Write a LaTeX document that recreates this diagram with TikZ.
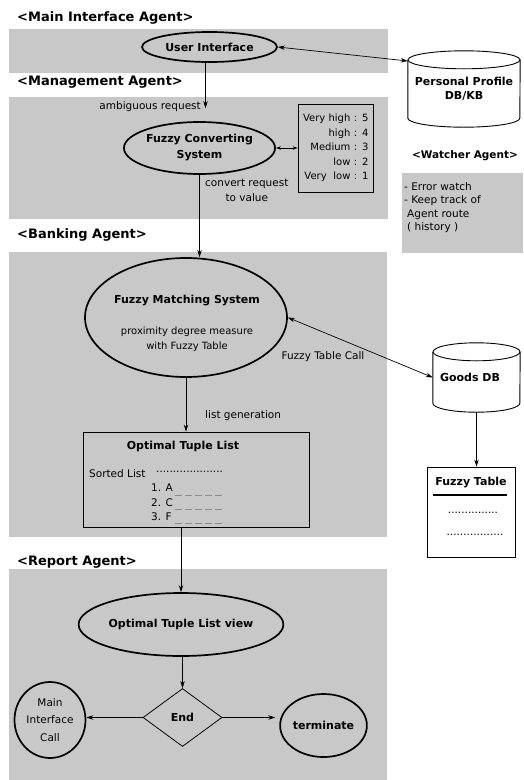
\documentclass[tikz,border=0pt]{standalone}
\usepackage{fontspec}
\setmainfont{DejaVu Sans}
\usetikzlibrary{shapes.geometric,arrows.meta,calc}
\definecolor{bandgray}{RGB}{200,200,200}
\definecolor{dashgray}{RGB}{140,140,140}
\newcommand\myfs[2]{\fontsize{#1}{#2}\selectfont}
\newcommand\mycyl[3]{%
  \draw[line width=0.9pt] ($(#1.north)+(0,#3)$) ellipse [x radius=#2pt, y radius=#3pt];
  \draw[line width=0.9pt] ($(#1.north west)+(0,#3)$) -- ($(#1.south west)-(0,#3)$)
    arc[start angle=180, end angle=360, x radius=#2pt, y radius=#3pt] -- ($(#1.north east)+(0,#3)$);}
\begin{document}
\begin{tikzpicture}[x=1pt,y=-1pt,
  band/.style={fill=bandgray, draw=none},
  agtitle/.style={font=\myfs{13}{15}\bfseries, anchor=west, inner sep=0},
  ell/.style={ellipse, draw, line width=1.7pt, inner sep=0, align=center, font=\myfs{11}{16}\bfseries},
  bold/.style={font=\myfs{11}{14}\bfseries, inner sep=0, align=center},
  lbl/.style={font=\myfs{10.5}{15}, inner sep=0, align=center},
  arr/.style={-{Stealth[length=7pt,width=4.5pt]}, line width=0.7pt},
  darr/.style={{Stealth[length=7pt,width=4.5pt]}-{Stealth[length=7pt,width=4.5pt]}, line width=0.7pt},
  sdarr/.style={{Stealth[length=5pt,width=3.5pt]}-{Stealth[length=5pt,width=3.5pt]}, line width=0.7pt},
  boxframe/.style={draw, line width=0.9pt, inner sep=0}]
\useasboundingbox (0,0) rectangle (523,780);
\fill[white] (0,0) rectangle (523,780);
% bands
\fill[band] (9,29) rectangle (388,73);
\fill[band] (9,97) rectangle (388,219);
\fill[band] (9,252) rectangle (387,537);
\fill[band] (9,569) rectangle (387,780);
\fill[band] (402,173) rectangle (523,253);
% titles
\node[agtitle] (t1) at (17,18) {<Main Interface Agent>};
\node[agtitle] (t2) at (17,82) {<Management Agent>};
\node[agtitle] (t3) at (17,235) {<Banking Agent>};
\node[agtitle] (t4) at (17,562) {<Report Agent>};
\node[font=\myfs{10.5}{13}\bfseries, inner sep=0] (t5) at (465,156) {<Watcher Agent>};
% watcher text
\node[font=\myfs{10.5}{13.5}, inner sep=0, anchor=north west, align=left] (wt) at (404,182)
  {- Error watch\\- Keep track of\\\hspace*{3pt}Agent route\\\hspace*{3pt}( history )};
% main interface
\node[ell, minimum width=135pt, minimum height=30pt] (ui) at (209.5,47) {User Interface};
\node[bold, minimum width=112pt, minimum height=76pt] (pp) at (464,89) {Personal Profile\\DB/KB};
\mycyl{pp}{56}{9}
\draw[darr] (ui.east) -- ([yshift=28pt]pp.west);
% management
\node[ell, minimum width=135pt, minimum height=52pt] (fcs) at (199.5,148) {Fuzzy Converting\\System};
\node[draw, line width=0.8pt, inner ysep=0, inner xsep=4.5pt, minimum height=88pt, text width=66pt,
  align=right, font=\myfs{10}{14.5}] (fv) at (335.5,148)
  {Very high : 5\\high : 4\\Medium : 3\\low : 2\\Very\ \ low : 1};
\draw[sdarr] (fcs.east) -- (fv.west);
\coordinate (a1) at ($(ui.south)+(-4,0)$);
\draw[arr, shorten >=13pt] (a1) -- (a1 |- fcs.north);
\node[lbl, anchor=east] (lamb) at (201,107) {ambiguous request};
\node[lbl, anchor=west] (lconv) at (205,190.5) {convert request\\to value};
% banking
\node[ell, minimum width=202pt, minimum height=119pt] (fms) at (186,317.5) {};
\node[bold] (fmst) at (187,301) {Fuzzy Matching System};
\node[lbl, font=\myfs{10}{15}] (fmsd) at (187,339.5) {proximity degree measure\\with Fuzzy Table};
\draw[arr] (fcs.south) -- (fcs.south |- fms.north);
\node[bold, minimum width=87pt, minimum height=69pt] (gdb) at (476.5,377.5) {};
\node[bold] (gdbt) at (470,377) {Goods DB};
\mycyl{gdb}{43.5}{9}
\draw[darr] (fms.east) -- (gdb.west);
\node[lbl] (lftc) at (323,357) {Fuzzy Table Call};
\node[boxframe, minimum width=88pt, minimum height=90pt] (ft) at (471,512) {};
\node[bold] (ftt) at (471,483) {Fuzzy Table};
\draw[line width=1.1pt] (433,495) -- (507,495);
\node[lbl] (ftd1) at (473,513) {...............};
\node[lbl] (ftd2) at (475,535) {.................};
\draw[arr] (gdb.south) -- (gdb.south |- ft.north);
\node[boxframe, minimum width=226pt, minimum height=95pt] (otl) at (196,479.5) {};
\node[bold] (otlt) at (183,446) {Optimal Tuple List};
\node[lbl, anchor=west] (sl) at (89,474) {Sorted List};
\node[lbl, anchor=west] (sld) at (156,472) {....................};
\node[lbl, anchor=west] (i1) at (151,488) {1. A};
\node[lbl, anchor=west] (i2) at (151,503) {2. C};
\node[lbl, anchor=west] (i3) at (151,517) {3. F};
\draw[dashgray, line width=0.8pt, dash pattern=on 7pt off 3pt] (175,495) -- (222,495);
\draw[dashgray, line width=0.8pt, dash pattern=on 7pt off 3pt] (175,509) -- (222,509);
\draw[dashgray, line width=0.8pt, dash pattern=on 7pt off 3pt] (175,523) -- (222,523);
\draw[arr] (fms.south) -- (fms.south |- otl.north);
\node[lbl, anchor=west] (llg) at (205,416) {list generation};
% report
\node[ell, minimum width=184pt, minimum height=63pt] (otlv) at (181,624.5) {Optimal Tuple List view};
\draw[arr] (otlv.north |- otl.south) -- (otlv.north);
\node[diamond, draw, line width=0.8pt, minimum width=79pt, minimum height=58pt, aspect=1.36,
  inner sep=0, font=\myfs{11}{13}\bfseries] (endd) at (182.5,717.5) {End};
\draw[arr] (otlv.south -| endd.north) -- (endd.north);
\node[ellipse, draw, line width=1.7pt, inner sep=0, minimum width=71pt, minimum height=76pt,
  align=center, font=\myfs{10.5}{17.5}] (mic) at (50,720) {Main\\Interface\\Call};
\node[ell, minimum width=85pt, minimum height=63pt] (term) at (323.5,725.5) {terminate};
\draw[arr] (endd.west) -- (endd.west -| mic.east);
\draw[arr, shorten >=4pt] (endd.east) -- (endd.east -| term.west);
\end{tikzpicture}
\end{document}
